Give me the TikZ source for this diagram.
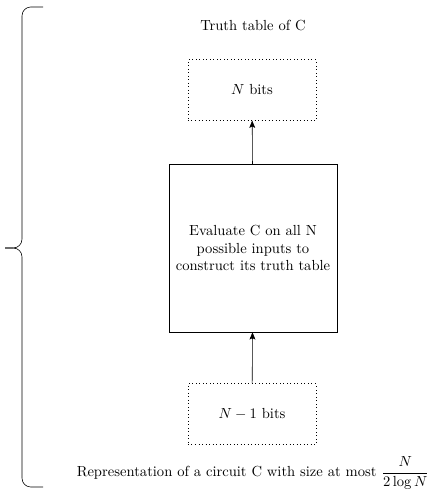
\documentclass[tikz,border=0pt]{standalone}
\usepackage{amsmath}
\usetikzlibrary{arrows.meta}
\begin{document}
\begin{tikzpicture}[x=0.685pt,y=-0.685pt,
  bitsbox/.style={draw,dotted,minimum width=87.7pt,minimum height=41.5pt,inner sep=0pt},
  evalbox/.style={draw,minimum width=115pt,minimum height=115pt,align=center,inner sep=0pt},
  conn/.style={-{Stealth[length=5pt,width=4pt,inset=1pt]}},
  lbl/.style={inner sep=0pt}]
\useasboundingbox (0,0) rectangle (430,494);
\node[lbl] (top) at (253,26) {Truth table of C};
\node[bitsbox] (out) at (252,90) {$N$ bits};
\node[evalbox] (eval) at (253,248) {Evaluate C on all N\\possible inputs to\\construct its truth table};
\node[bitsbox] (in) at (252,414) {$N-1$ bits};
\node[lbl] (bot) at (253,473) {Representation of a circuit C with size at most $\dfrac{N}{2\log N}$};
\draw[conn] (in) -- (eval);
\draw[conn] (eval) -- (out);
\coordinate (bt) at (43,7);
\coordinate (bb) at (43,487);
\coordinate (tip) at (5,248);
\draw[rounded corners=6pt] (bt) -- (22,7) -- (22,248) -- (tip);
\draw[rounded corners=6pt] (bb) -- (22,487) -- (22,248) -- (tip);
\end{tikzpicture}
\end{document}
